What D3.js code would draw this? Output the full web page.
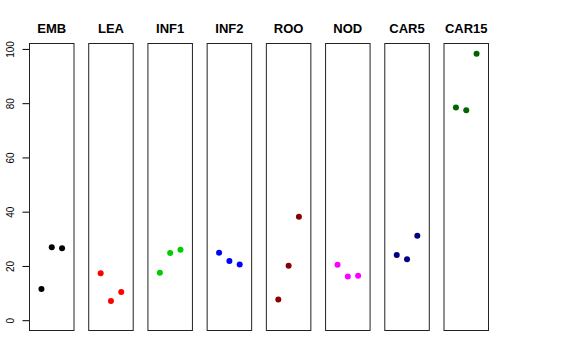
<!DOCTYPE html>
<html><head><meta charset="utf-8">
<script src="https://cdn.jsdelivr.net/npm/d3@7"></script>
<style>body{margin:0;background:#fff}svg{display:block}</style>
</head><body>
<script>
const categories = ["EMB","LEA","INF1","INF2","ROO","NOD","CAR5","CAR15"];
const colors = ["#000000","#FF0000","#00CD00","#0000FF","#8B0000","#FF00FF","#000080","#006400"];
const values = [
  [11.5, 26.9, 26.5],
  [17.3, 7.1, 10.4],
  [17.5, 24.8, 26.0],
  [24.9, 21.8, 20.5],
  [7.6, 20.1, 38.1],
  [20.4, 16.1, 16.4],
  [24.0, 22.5, 31.1],
  [78.4, 77.4, 98.2]
];
const yTicks = [0, 20, 40, 60, 80, 100];

const W = 576, H = 360;
const svg = d3.select("body").append("svg").attr("width", W).attr("height", H);
const pTop = 43.5, pBottom = 330.5, left0 = 29.5, right1 = 488.5;
const pw = 44.5;
const panelX = d3.scalePoint().domain(categories).range([left0, right1 - pw]);
const y = d3.scaleLinear().domain([-3.8, 102]).range([pBottom, pTop]);
const x = d3.scaleLinear().domain([-0.16, 4.16]).range([0, pw]);

// y axis
const ax = svg.append("g").attr("transform", `translate(${left0},0)`)
  .call(d3.axisLeft(y).tickValues(yTicks).tickSize(7));
ax.select(".domain").remove();
ax.selectAll("line").attr("stroke", "#000");
ax.selectAll("text")
  .attr("font-family", "Liberation Sans, Arial, sans-serif")
  .attr("font-size", 10).attr("fill", "#000")
  .attr("x", 0).attr("y", 0).attr("dy", 0)
  .attr("text-anchor", "middle")
  .attr("transform", "translate(-15.5,0) rotate(-90)");

categories.forEach((c, i) => {
  const g = svg.append("g").attr("transform", `translate(${panelX(c)},0)`);
  g.append("rect").attr("x", 0).attr("y", pTop).attr("width", pw).attr("height", pBottom - pTop)
    .attr("fill", "none").attr("stroke", "#222").attr("stroke-width", 1);
  g.append("text").attr("x", pw / 2).attr("y", 33).attr("text-anchor", "middle")
    .attr("font-family", "Liberation Sans, Arial, sans-serif").attr("font-weight", "bold")
    .attr("font-size", 13).text(c);
  g.selectAll("circle").data(values[i]).join("circle")
    .attr("cx", (d, j) => x(j + 1)).attr("cy", d => y(d)).attr("r", 3)
    .attr("fill", colors[i]);
});
</script>
</body></html>
